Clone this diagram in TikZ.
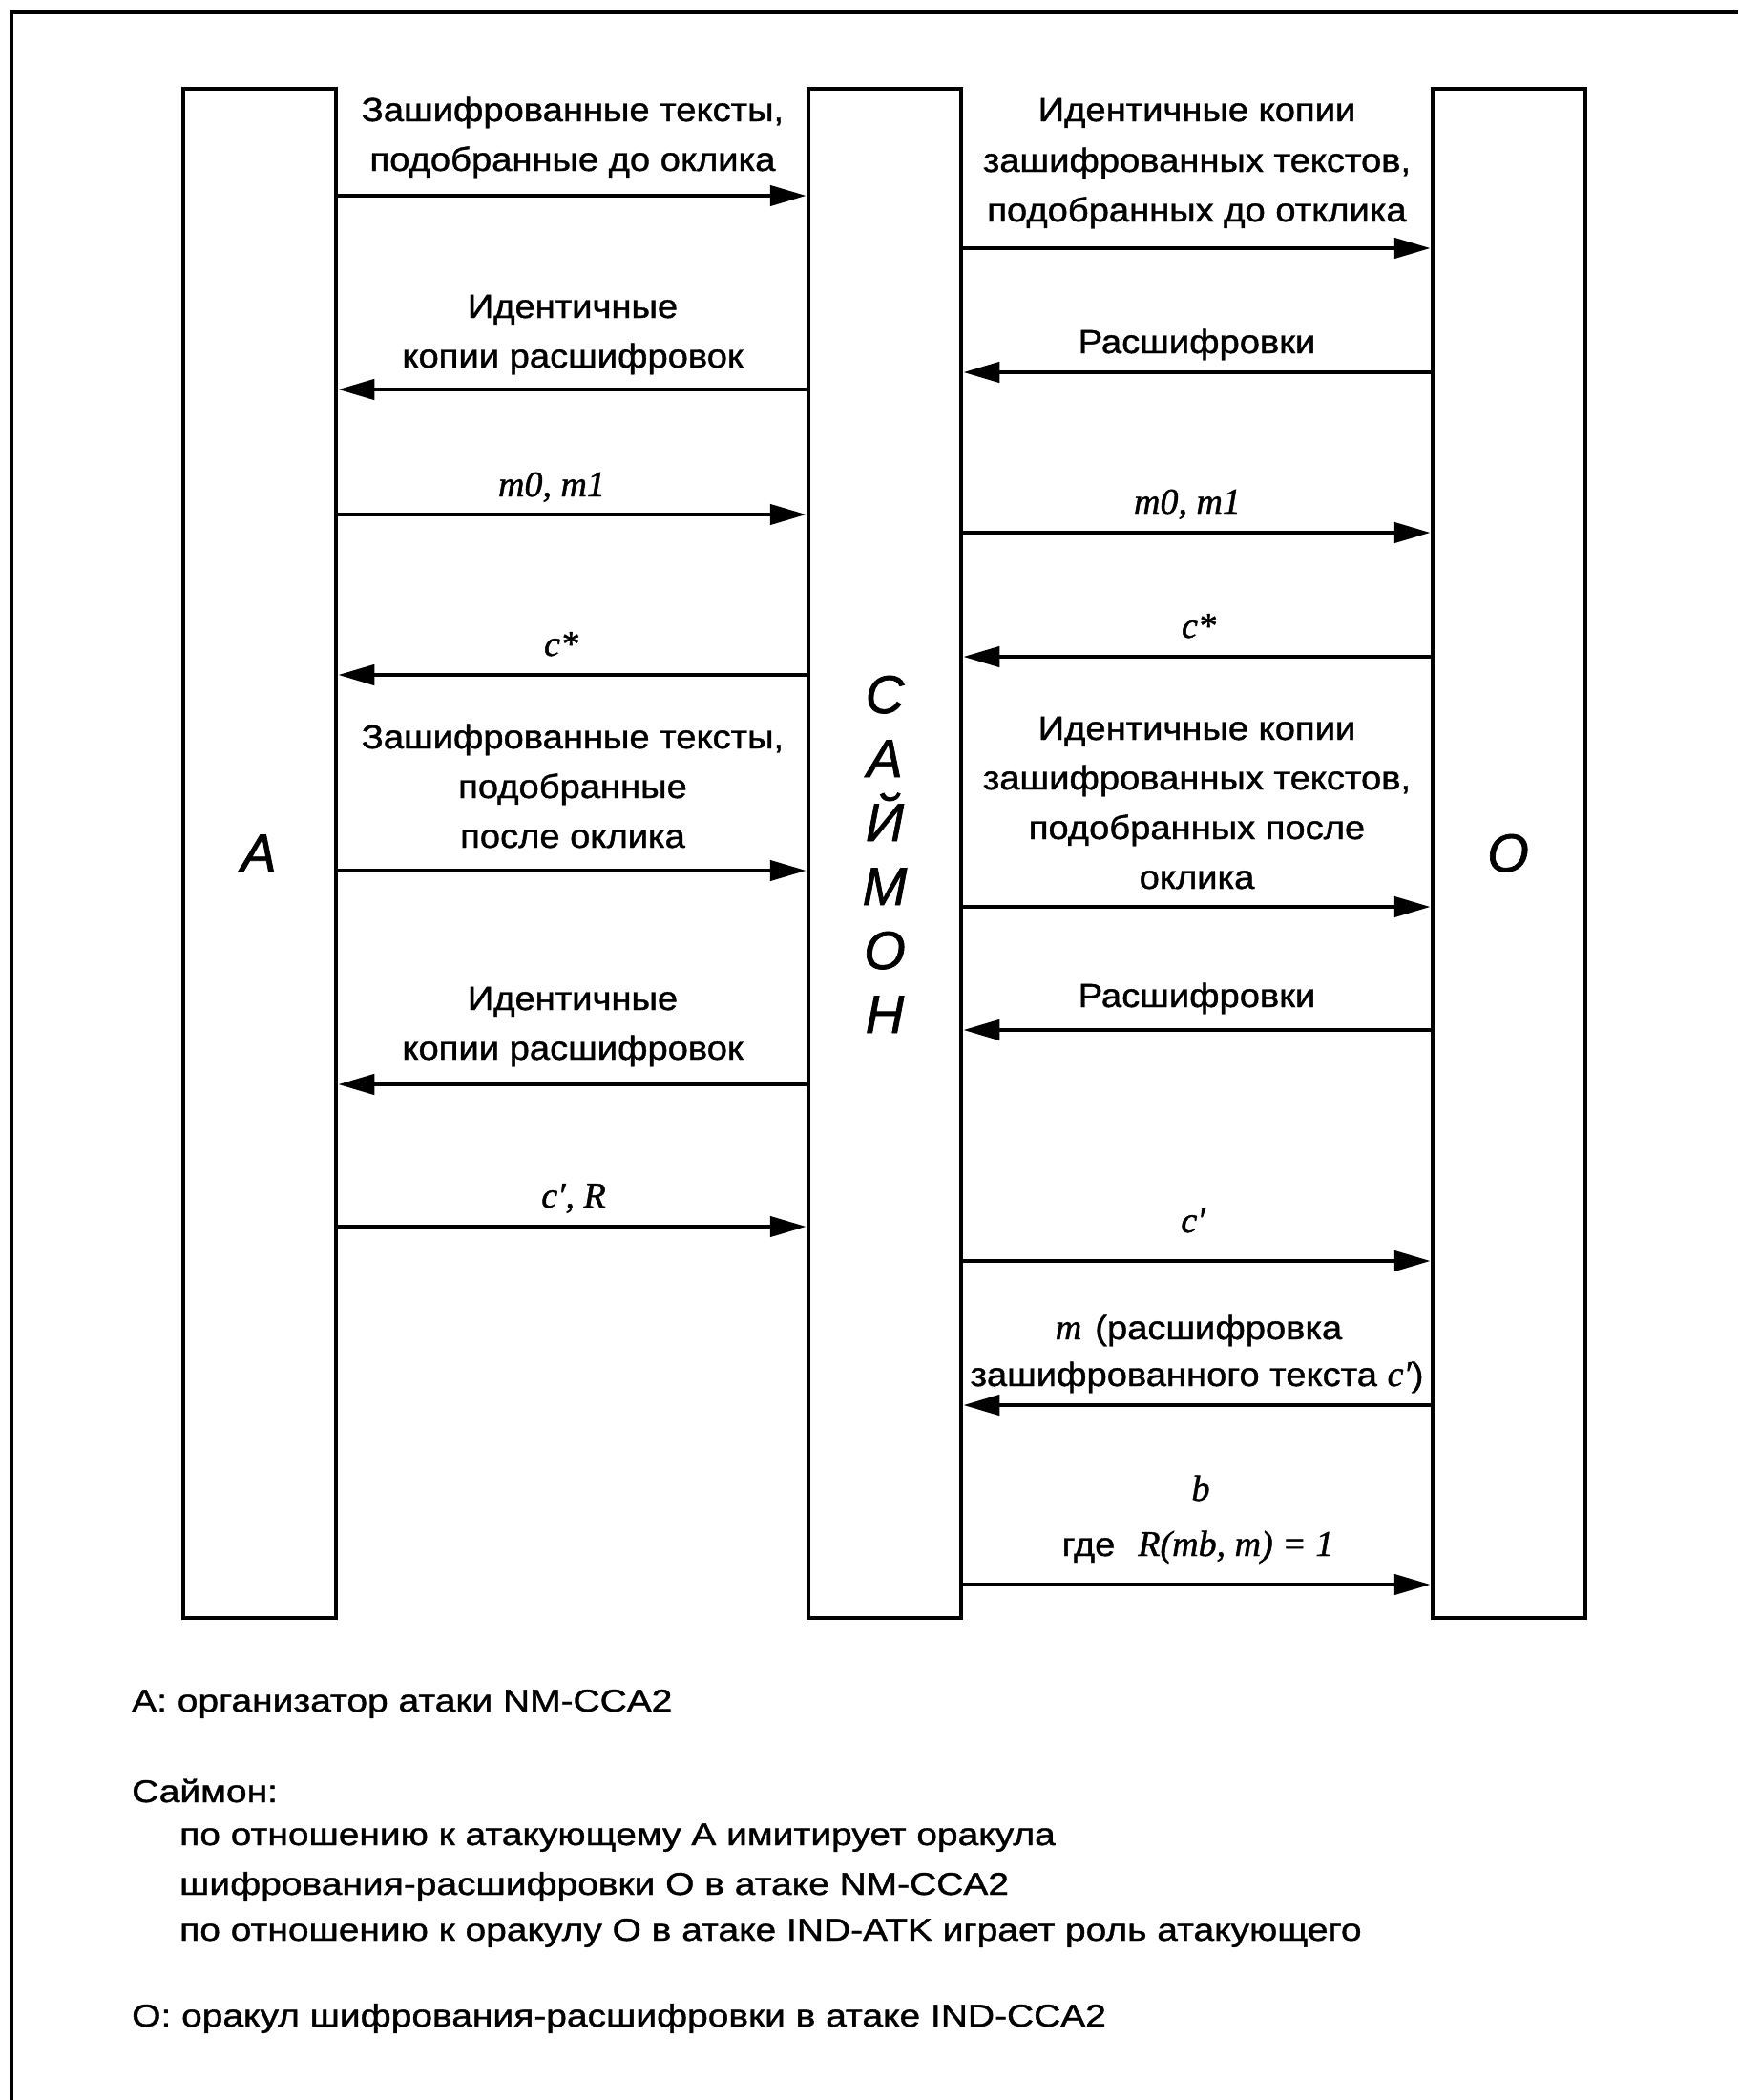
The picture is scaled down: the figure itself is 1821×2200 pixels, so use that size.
\documentclass[tikz,border=0pt]{standalone}
\usepackage{fontspec}
\setmainfont{Liberation Sans}[FakeStretch=1.09,FakeBold=1.2]
\newfontfamily\notefont{Liberation Sans}[FakeStretch=1.18,FakeBold=1.2]
\newfontfamily\varfont{Liberation Serif}[FakeBold=1.2]
\newfontfamily\rolefont{Liberation Sans}[FakeBold=1.2]
\newcommand\vv[1]{{\varfont\itshape #1}}
\usetikzlibrary{arrows.meta}

\begin{document}
\begin{tikzpicture}[x=1pt,y=-1pt,
  party/.style={draw, line width=4.5pt, minimum width=160pt, minimum height=1602pt, inner sep=0pt},
  msg/.style={line width=4.5pt, -{Triangle[length=38pt,width=21pt]}},
  lbl/.style={anchor=base, inner sep=0pt, font=\fontsize{35}{42}\selectfont},
  varlbl/.style={anchor=base, inner sep=0pt, font=\fontsize{38}{42}\selectfont},
  role/.style={anchor=base, inner sep=0pt, font=\rolefont\itshape\fontsize{56}{60}\selectfont},
  note/.style={anchor=base west, inner sep=0pt, font=\notefont\fontsize{33}{40}\selectfont}]

\useasboundingbox (0,0) rectangle (1821,2200);

% outer frame
\draw[line width=4.5pt] (1821,13) -- (12,13) -- (12,2200);

% participants
\node[party] (A) at (272,894) {};
\node[party] (S) at (927,894) {};
\node[party] (O) at (1581,894) {};

\node[role] (la) at (271,913) {A};
\node[role] (lo) at (1580,913) {O};
\node[role] (s1) at (927,747) {С};
\node[role] (s2) at (927,814) {А};
\node[role] (s3) at (927,881) {Й};
\node[role] (s4) at (927,948) {М};
\node[role] (s5) at (927,1015) {О};
\node[role] (s6) at (927,1082) {Н};

% messages between A and Simon
\node[lbl] (l1a) at (600,127) {Зашифрованные тексты,};
\node[lbl] (l1b) at (600,179) {подобранные до оклика};
\draw[msg] (A.east |- 0,205) -- (S.west |- 0,205);

\node[lbl] (l2a) at (600,333) {Идентичные};
\node[lbl] (l2b) at (600,385) {копии расшифровок};
\draw[msg] (S.west |- 0,408) -- (A.east |- 0,408);

\node[varlbl] (l3) at (578,520) {\vv{m0, m1}};
\draw[msg] (A.east |- 0,539) -- (S.west |- 0,539);

\node[varlbl] (l4) at (588,687) {\vv{c*}};
\draw[msg] (S.west |- 0,707) -- (A.east |- 0,707);

\node[lbl] (l5a) at (600,784) {Зашифрованные тексты,};
\node[lbl] (l5b) at (600,836) {подобранные};
\node[lbl] (l5c) at (600,888) {после оклика};
\draw[msg] (A.east |- 0,912) -- (S.west |- 0,912);

\node[lbl] (l6a) at (600,1058) {Идентичные};
\node[lbl] (l6b) at (600,1110) {копии расшифровок};
\draw[msg] (S.west |- 0,1136) -- (A.east |- 0,1136);

\node[varlbl] (l7) at (601,1265) {\vv{c′, R}};
\draw[msg] (A.east |- 0,1285) -- (S.west |- 0,1285);

% messages between Simon and O
\node[lbl] (r1a) at (1254,127) {Идентичные копии};
\node[lbl] (r1b) at (1254,180) {зашифрованных текстов,};
\node[lbl] (r1c) at (1254,232) {подобранных до отклика};
\draw[msg] (S.east |- 0,260) -- (O.west |- 0,260);

\node[lbl] (r2) at (1254,370) {Расшифровки};
\draw[msg] (O.west |- 0,390) -- (S.east |- 0,390);

\node[varlbl] (r3) at (1244,538) {\vv{m0, m1}};
\draw[msg] (S.east |- 0,558) -- (O.west |- 0,558);

\node[varlbl] (r4) at (1256,668) {\vv{c*}};
\draw[msg] (O.west |- 0,688) -- (S.east |- 0,688);

\node[lbl] (r5a) at (1254,775) {Идентичные копии};
\node[lbl] (r5b) at (1254,827) {зашифрованных текстов,};
\node[lbl] (r5c) at (1254,879) {подобранных после};
\node[lbl] (r5d) at (1254,931) {оклика};
\draw[msg] (S.east |- 0,950) -- (O.west |- 0,950);

\node[lbl] (r6) at (1254,1055) {Расшифровки};
\draw[msg] (O.west |- 0,1079) -- (S.east |- 0,1079);

\node[varlbl] (r7) at (1250,1291) {\vv{c′}};
\draw[msg] (S.east |- 0,1321) -- (O.west |- 0,1321);

\node[lbl] (r8a) at (1256,1403) {{\fontsize{38}{42}\selectfont\vv{m}}\hspace{14pt}(расшифровка};
\node[lbl] (r8b) at (1254,1452) {зашифрованного текста {\fontsize{38}{42}\selectfont\vv{c′}})};
\draw[msg] (O.west |- 0,1472) -- (S.east |- 0,1472);

\node[varlbl] (r9a) at (1258,1572) {\vv{b}};
\node[lbl] (r9b) at (1255,1630) {где\hspace{24pt}{\fontsize{38}{42}\selectfont\vv{R(mb, m) = 1}}};
\draw[msg] (S.east |- 0,1660) -- (O.west |- 0,1660);

% legend
\node[note] (n1) at (138,1793) {A: организатор атаки NM-CCA2};
\node[note] (n2) at (138,1888) {Саймон:};
\node[note] (n3) at (188,1933) {по отношению к атакующему A имитирует оракула};
\node[note] (n4) at (188,1985) {шифрования-расшифровки O в атаке NM-CCA2};
\node[note] (n5) at (188,2033) {по отношению к оракулу O в атаке IND-ATK играет роль атакующего};
\node[note] (n6) at (138,2123) {O: оракул шифрования-расшифровки в атаке IND-CCA2};

\end{tikzpicture}
\end{document}
